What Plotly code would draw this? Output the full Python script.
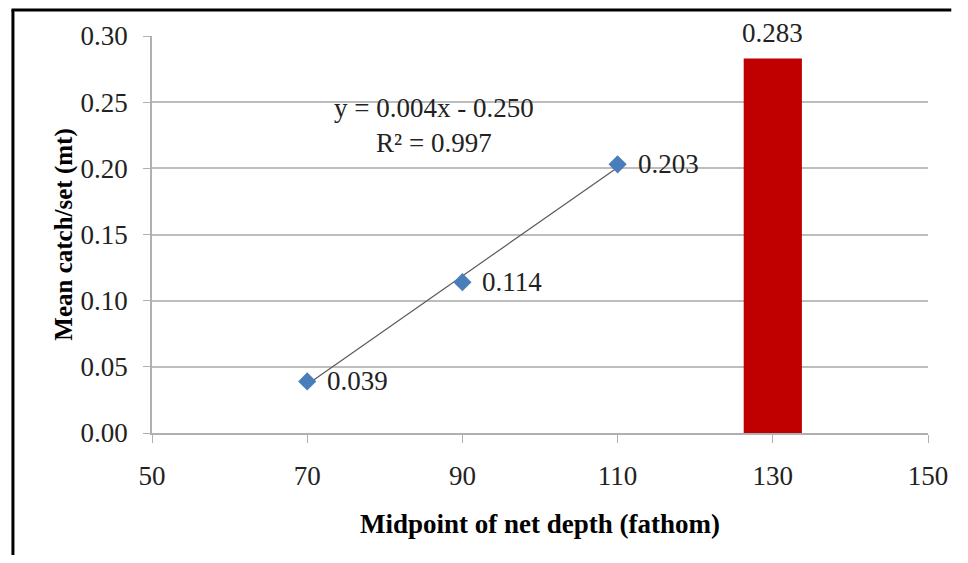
import numpy as np
import plotly.graph_objects as go

depth = [70, 90, 110]
catch = [0.039, 0.114, 0.203]
bar_depth = [130]
bar_catch = [0.283]
x_ticks = [50, 70, 90, 110, 130, 150]
y_ticks = [0.00, 0.05, 0.10, 0.15, 0.20, 0.25, 0.30]
equation_lines = ["y = 0.004x - 0.250", "R² = 0.997"]

slope, intercept = np.polyfit(depth, catch, 1)
fit = [slope * d + intercept for d in depth]

FONT = "Liberation Serif, Times New Roman, serif"
TXT = "#222222"
fig = go.Figure()

fig.add_trace(go.Bar(x=bar_depth, y=bar_catch, width=7.5, marker=dict(color="#C00000", line=dict(width=0)),
                     showlegend=False, hoverinfo="skip"))
fig.add_trace(go.Scatter(x=[depth[0], depth[-1]], y=[fit[0], fit[-1]], mode="lines",
                         line=dict(color="#5A5A5A", width=1.2), showlegend=False))
fig.add_trace(go.Scatter(x=depth, y=catch, mode="markers",
                         marker=dict(symbol="diamond", size=14, color="#4A7EBB"), showlegend=False))

for d, c in zip(depth, catch):
    fig.add_annotation(x=d, y=c, text=f"{c:.3f}", showarrow=False, xanchor="left", xshift=18,
                       font=dict(family=FONT, size=27, color=TXT))

fig.add_annotation(x=bar_depth[0], y=bar_catch[0], text=f"{bar_catch[0]:.3f}", showarrow=False,
                   yshift=26, font=dict(family=FONT, size=27, color=TXT), bgcolor="white", borderpad=0)
fig.add_annotation(x=86.3, y=0.232, text="<br>".join(equation_lines),
                   showarrow=False, font=dict(family=FONT, size=27, color=TXT), align="center")

# outer border (left and top)
fig.add_shape(type="line", xref="paper", yref="paper", x0=-0.1792, x1=-0.1792, y0=1.0655, y1=-0.35,
              line=dict(color="black", width=3))
fig.add_shape(type="line", xref="paper", yref="paper", x0=-0.1811, x1=1.03, y0=1.0655, y1=1.0655,
              line=dict(color="black", width=3))

fig.update_layout(
    width=952, height=547,
    margin=dict(l=144, r=21, t=28, b=122),
    paper_bgcolor="white", plot_bgcolor="white",
    font=dict(family=FONT, color=TXT),
    xaxis=dict(range=[50, 150], tickvals=x_ticks, showgrid=False, showline=True, linecolor="#B0B0B0",
               linewidth=1.5, ticks="outside", ticklen=8, tickcolor="#B0B0B0", zeroline=False,
               ticklabelstandoff=10,
               tickfont=dict(family=FONT, size=27, color=TXT),
               title=dict(text="<b>Midpoint of net depth (fathom)</b>", font=dict(family=FONT, size=27, color="#000"),
                          standoff=24)),
    yaxis=dict(range=[0, 0.30], tickvals=y_ticks, tickformat=".2f", showgrid=True, gridcolor="#BDBDBD",
               gridwidth=1.5, showline=True, linecolor="#B0B0B0", linewidth=1.5, ticks="outside", ticklen=7,
               tickcolor="#B0B0B0", zeroline=False, ticklabelstandoff=10,
               tickfont=dict(family=FONT, size=27, color=TXT),
               title=dict(text="<b>Mean catch/set (mt)</b>", font=dict(family=FONT, size=25, color="#000"),
                          standoff=1)),
)

fig.write_html("out.html", config={"displayModeBar": False})
